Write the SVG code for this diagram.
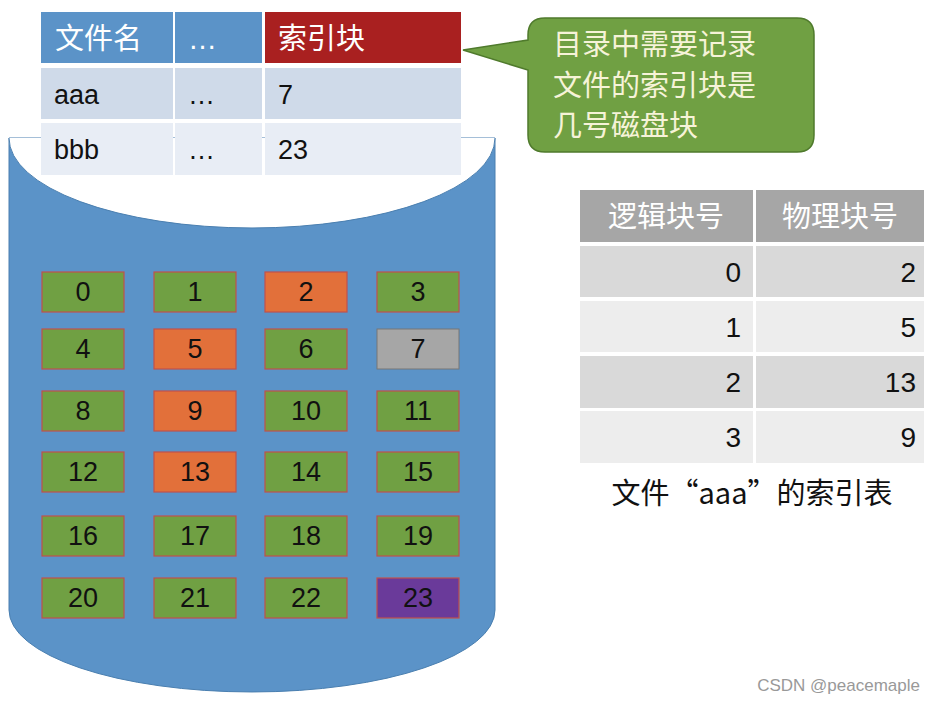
<svg xmlns="http://www.w3.org/2000/svg" width="936" height="704" viewBox="0 0 936 704">
<style>
text{font-family:"Liberation Sans","Noto Sans CJK SC",sans-serif}
.b{stroke:#c0504d;stroke-width:1.2}
.g{fill:#70a043}.o{fill:#e2703a}
.n{font-size:27px;text-anchor:middle;fill:#111}
.t{font-size:27px;fill:#111}
.h{font-size:29px;fill:#fff}
.r{font-size:28px;text-anchor:end;fill:#111}
.c{font-size:29px;fill:#f6f3d8}
</style>
<rect width="936" height="704" fill="#fff"/>
<g id="cylinder">
<path d="M9,138 V610 A243,82 0 0 0 495,610 V138 Z" fill="#5b93c8" stroke="#4a7fb0"/>
<path d="M9,138 A243,90 0 0 0 495,138 Z" fill="#fff"/>
<path d="M9,138 A243,90 0 0 0 495,138" fill="none" stroke="#4a7fb0"/>
</g>
<g id="dirtable">
<rect x="41" y="12" width="132" height="51" fill="#5b93c8"/>
<rect x="175" y="12" width="87" height="51" fill="#5b93c8"/>
<rect x="265" y="12" width="196" height="51" fill="#a92020"/>
<rect x="41" y="68" width="132" height="51" fill="#cfdae9"/>
<rect x="175" y="68" width="87" height="51" fill="#cfdae9"/>
<rect x="265" y="68" width="196" height="51" fill="#cfdae9"/>
<rect x="41" y="123" width="132" height="52" fill="#e8edf5"/>
<rect x="175" y="123" width="87" height="52" fill="#e8edf5"/>
<rect x="265" y="123" width="196" height="52" fill="#e8edf5"/>
<text class="h" x="55" y="49">文件名</text><text class="h" x="188" y="49">…</text><text class="h" x="278" y="49">索引块</text>
<text class="t" x="54" y="104">aaa</text><text class="t" x="188" y="104">…</text><text class="t" x="278" y="104">7</text>
<text class="t" x="54" y="159">bbb</text><text class="t" x="188" y="159">…</text><text class="t" x="278" y="159">23</text>
</g>
<g id="callout">
<path d="M545,18 H797 Q814,18 814,35 V135 Q814,152 797,152 H545 Q528,152 528,135 V70 L463,50 L528,40 V35 Q528,18 545,18 Z" fill="#70a043" stroke="#4f7a2c" stroke-width="1.5"/>
<text class="c" x="553" y="55">目录中需要记录</text>
<text class="c" x="553" y="96">文件的索引块是</text>
<text class="c" x="553" y="136">几号磁盘块</text>
</g>
<g id="blocks">
<rect class="g b" x="42" y="272" width="82" height="40"/><text class="n" x="83" y="301">0</text>
<rect class="g b" x="154" y="272" width="82" height="40"/><text class="n" x="195" y="301">1</text>
<rect class="o b" x="265" y="272" width="82" height="40"/><text class="n" x="306" y="301">2</text>
<rect class="g b" x="377" y="272" width="82" height="40"/><text class="n" x="418" y="301">3</text>
<rect class="g b" x="42" y="329" width="82" height="40"/><text class="n" x="83" y="358">4</text>
<rect class="o b" x="154" y="329" width="82" height="40"/><text class="n" x="195" y="358">5</text>
<rect class="g b" x="265" y="329" width="82" height="40"/><text class="n" x="306" y="358">6</text>
<rect fill="#a6a6a6" stroke="#777" x="377" y="329" width="82" height="40"/><text class="n" x="418" y="358">7</text>
<rect class="g b" x="42" y="391" width="82" height="40"/><text class="n" x="83" y="420">8</text>
<rect class="o b" x="154" y="391" width="82" height="40"/><text class="n" x="195" y="420">9</text>
<rect class="g b" x="265" y="391" width="82" height="40"/><text class="n" x="306" y="420">10</text>
<rect class="g b" x="377" y="391" width="82" height="40"/><text class="n" x="418" y="420">11</text>
<rect class="g b" x="42" y="452" width="82" height="40"/><text class="n" x="83" y="481">12</text>
<rect class="o b" x="154" y="452" width="82" height="40"/><text class="n" x="195" y="481">13</text>
<rect class="g b" x="265" y="452" width="82" height="40"/><text class="n" x="306" y="481">14</text>
<rect class="g b" x="377" y="452" width="82" height="40"/><text class="n" x="418" y="481">15</text>
<rect class="g b" x="42" y="516" width="82" height="40"/><text class="n" x="83" y="545">16</text>
<rect class="g b" x="154" y="516" width="82" height="40"/><text class="n" x="195" y="545">17</text>
<rect class="g b" x="265" y="516" width="82" height="40"/><text class="n" x="306" y="545">18</text>
<rect class="g b" x="377" y="516" width="82" height="40"/><text class="n" x="418" y="545">19</text>
<rect class="g b" x="42" y="578" width="82" height="40"/><text class="n" x="83" y="607">20</text>
<rect class="g b" x="154" y="578" width="82" height="40"/><text class="n" x="195" y="607">21</text>
<rect class="g b" x="265" y="578" width="82" height="40"/><text class="n" x="306" y="607">22</text>
<rect fill="#6a3a9a" class="b" x="377" y="578" width="82" height="40"/><text class="n" x="418" y="607">23</text>
</g>
<g id="indextable">
<rect x="580" y="190" width="173" height="52" fill="#a6a6a6"/>
<rect x="756" y="190" width="168" height="52" fill="#a6a6a6"/>
<rect x="580" y="246" width="173" height="51" fill="#d9d9d9"/><rect x="756" y="246" width="168" height="51" fill="#d9d9d9"/>
<rect x="580" y="301" width="173" height="51" fill="#ededed"/><rect x="756" y="301" width="168" height="51" fill="#ededed"/>
<rect x="580" y="356" width="173" height="52" fill="#d9d9d9"/><rect x="756" y="356" width="168" height="52" fill="#d9d9d9"/>
<rect x="580" y="411" width="173" height="52" fill="#ededed"/><rect x="756" y="411" width="168" height="52" fill="#ededed"/>
<text class="h" x="666" y="227" text-anchor="middle">逻辑块号</text>
<text class="h" x="840" y="227" text-anchor="middle">物理块号</text>
<text class="r" x="741" y="282">0</text><text class="r" x="916" y="282">2</text>
<text class="r" x="741" y="337">1</text><text class="r" x="916" y="337">5</text>
<text class="r" x="741" y="392">2</text><text class="r" x="916" y="392">13</text>
<text class="r" x="741" y="447">3</text><text class="r" x="916" y="447">9</text>
<text x="752" y="504" font-size="29" fill="#111" text-anchor="middle" style="font-family:'Noto Sans CJK SC',sans-serif">文件“aaa”的索引表</text>
</g>
<text x="920" y="691" font-size="17" fill="#999" text-anchor="end">CSDN @peacemaple</text>
</svg>
